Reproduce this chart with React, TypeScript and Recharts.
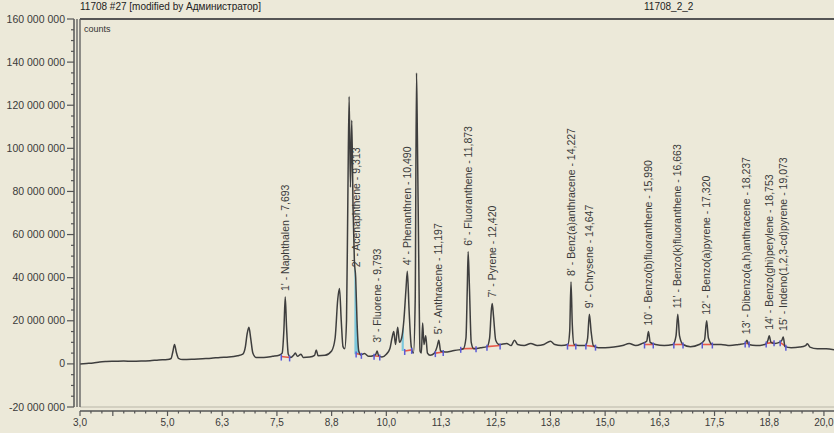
import { ComposedChart, Line, Area, XAxis, YAxis, Scatter, ReferenceLine } from 'recharts';

// chromatogram trace: retention time (min) and signal (millions of counts)
const retentionTimes = [
  3.0, 3.15, 3.3, 3.45, 3.6, 3.8, 4.0, 4.2, 4.4, 4.6, 4.8, 5.0, 5.08, 5.12, 5.16, 5.2, 5.25, 5.35, 5.55, 5.8,
  6.0, 6.2, 6.4, 6.6, 6.72, 6.78, 6.82, 6.86, 6.9, 6.95, 7.02, 7.2, 7.4, 7.55, 7.62, 7.66, 7.69, 7.72, 7.76, 7.82,
  7.88, 7.92, 7.97, 8.05, 8.1, 8.25, 8.36, 8.4, 8.44, 8.6, 8.75, 8.83, 8.89, 8.93, 8.97, 9.01, 9.05, 9.09, 9.12, 9.15,
  9.18, 9.21, 9.24, 9.27, 9.3, 9.33, 9.37, 9.42, 9.5, 9.6, 9.7, 9.76, 9.79, 9.82, 9.9, 10.0, 10.08, 10.13, 10.17, 10.21,
  10.26, 10.3, 10.35, 10.4, 10.45, 10.48, 10.52, 10.57, 10.62, 10.66, 10.69, 10.71, 10.74, 10.77, 10.8, 10.83, 10.86, 10.9, 10.94, 11.0,
  11.1, 11.16, 11.2, 11.24, 11.35, 11.5, 11.65, 11.76, 11.82, 11.85, 11.87, 11.9, 11.94, 12.0, 12.15, 12.3, 12.36, 12.4, 12.42, 12.45,
  12.5, 12.58, 12.75, 12.85, 12.93, 13.0, 13.15, 13.3, 13.45, 13.6, 13.75, 13.85, 14.0, 14.15, 14.19, 14.22, 14.25, 14.29, 14.4, 14.55,
  14.6, 14.64, 14.68, 14.73, 14.85, 15.0, 15.2, 15.4, 15.55, 15.7, 15.85, 15.95, 15.99, 16.03, 16.15, 16.35, 16.55, 16.62, 16.66, 16.7,
  16.78, 16.95, 17.15, 17.27, 17.32, 17.36, 17.45, 17.65, 17.85, 18.05, 18.2, 18.24, 18.28, 18.45, 18.65, 18.72, 18.75, 18.79, 18.88, 18.98,
  19.04, 19.07, 19.11, 19.25, 19.45, 19.58, 19.62, 19.68, 19.85, 20.05, 20.23,
];
const signalMillions = [
  0.0, 0.2, 0.4, 0.9, 1.1, 1.2, 1.3, 1.2, 1.3, 1.5, 1.8, 2.0, 2.5, 5.5, 9.0, 5.5, 2.6, 2.0, 2.1, 2.4,
  2.6, 3.0, 3.2, 3.8, 4.5, 8.0, 14.0, 17.0, 12.0, 5.0, 3.0, 3.0, 3.5, 4.0, 5.0, 16.0, 31.0, 17.0, 4.5, 3.0,
  4.0, 5.0, 3.5, 4.5, 3.0, 3.2, 4.0, 6.5, 3.8, 4.0, 6.0, 12.0, 30.0, 35.0, 20.0, 8.0, 7.0, 20.0, 75.0, 124.0,
  82.0, 113.0, 72.0, 48.0, 40.0, 20.0, 6.0, 4.2, 4.8, 3.5, 3.8, 4.5, 6.0, 4.0, 3.2, 4.5, 7.0, 12.0, 15.0, 9.0,
  17.0, 10.0, 12.0, 20.0, 35.0, 43.0, 25.0, 8.0, 5.0, 30.0, 135.0, 105.0, 50.0, 6.0, 5.0, 19.0, 9.0, 13.0, 5.0, 4.0,
  5.0, 8.0, 11.0, 6.0, 5.5, 6.0, 6.5, 7.0, 12.0, 35.0, 52.0, 35.0, 10.0, 7.0, 7.5, 8.0, 12.0, 25.0, 28.0, 22.0,
  11.0, 9.0, 9.5, 8.5, 11.0, 9.0, 8.5, 9.5, 8.5, 9.0, 10.5, 9.0, 8.5, 9.0, 15.0, 38.0, 18.0, 9.0, 8.5, 8.5,
  12.0, 23.0, 15.0, 8.5, 7.5, 7.5, 7.8, 8.5, 9.5, 8.5, 9.5, 10.5, 15.0, 10.0, 9.0, 8.5, 9.0, 13.0, 23.0, 13.0,
  9.0, 8.0, 9.0, 11.0, 20.0, 12.0, 9.0, 9.0, 8.5, 9.0, 9.5, 11.0, 9.0, 8.5, 9.0, 11.0, 13.0, 10.0, 9.5, 10.0,
  11.0, 12.5, 8.0, 7.5, 7.8, 8.5, 9.3, 7.8, 7.0, 7.0, 6.5,
];

// identified compounds
const peakTimes = [7.693, 9.313, 9.793, 10.49, 11.197, 11.873, 12.42, 14.227, 14.647, 15.99, 16.663, 17.32, 18.237, 18.753, 19.073];
const peakHeights = [31, 42, 7, 43, 11, 52, 28, 38, 23, 15, 23, 20, 11, 13, 12.5];
const peakLabels = [
  "1' - Naphthalen - 7,693",
  "2' - Acenaphthene - 9,313",
  "3' - Fluorene - 9,793",
  "4' - Phenanthren - 10,490",
  "5' - Anthracene - 11,197",
  "6' - Fluoranthene - 11,873",
  "7' - Pyrene - 12,420",
  "8' - Benz(a)anthracene - 14,227",
  "9' - Chrysene - 14,647",
  "10' - Benzo(b)fluoranthene - 15,990",
  "11' - Benzo(k)fluoranthene - 16,663",
  "12' - Benzo(a)pyrene - 17,320",
  "13' - Dibenzo(a,h)anthracene - 18,237",
  "14' - Benzo(ghi)perylene - 18,753",
  "15' - Indeno(1,2,3-cd)pyrene - 19,073",
];

// integration baselines
const intStarts = [7.6, 9.31, 9.72, 10.42, 11.12, 11.7, 12.3, 14.14, 14.56, 15.9, 16.57, 17.22, 18.2, 18.68, 19.0];
const intEnds = [7.79, 9.43, 9.85, 10.58, 11.3, 12.05, 12.6, 14.33, 14.78, 16.1, 16.78, 17.45, 18.29, 18.86, 19.13];
const intStartLevels = [3.4, 4.8, 3.8, 6.0, 5.0, 7.0, 8.0, 8.5, 8.5, 9.0, 9.0, 9.0, 9.5, 9.5, 10.0];
const intEndLevels = [3.0, 4.2, 3.4, 6.5, 5.5, 7.2, 8.5, 8.5, 8.0, 9.0, 9.0, 9.0, 9.5, 10.0, 8.0];

// axes
const xTicks = [3, 3.75, 5, 6.25, 7.5, 8.75, 10, 11.25, 12.5, 13.75, 15, 16.25, 17.5, 18.75, 20];
const xTickLabels = ['3,0', '', '5,0', '6,3', '7,5', '8,8', '10,0', '11,3', '12,5', '13,8', '15,0', '16,3', '17,5', '18,8', '20,0'];
const yTicks = [-20, 0, 20, 40, 60, 80, 100, 120, 140, 160];
const yTickLabels = ['-20 000 000', '0', '20 000 000', '40 000 000', '60 000 000', '80 000 000', '100 000 000', '120 000 000', '140 000 000', '160 000 000'];

const chartData = retentionTimes.map((t, i) => ({ t, signal: signalMillions[i] }));
const cyanA = chartData.filter(d => d.t >= 9.27 && d.t <= 9.37);
const cyanB = chartData.filter(d => d.t >= 10.35 && d.t <= 10.4);
const labelData = peakTimes.map((t, i) => ({ t, signal: peakHeights[i], label: peakLabels[i] }));
const markerData = intStarts.flatMap((s, i) => [
  { t: s, signal: intStartLevels[i] },
  { t: intEnds[i], signal: intEndLevels[i] },
]);

const xMinor: number[] = [];
for (let v = 3; v <= 20.001; v += 0.25) xMinor.push(v);
const yMinor: number[] = [];
for (let v = -20; v <= 160; v += 5) yMinor.push(v);

const FONT = '"Liberation Sans", Arial, sans-serif';
const BG = '#ECE9D9';
const INK = '#3a3a3a';

const XTick = (props: any) => {
  const { x, y, payload } = props;
  const i = xTicks.findIndex(v => Math.abs(v - payload.value) < 1e-6);
  const major = i >= 0;
  return (
    <g>
      <line x1={x} x2={x} y1={y} y2={y + (major ? 5 : 2.5)} stroke="#555" strokeWidth={1.2} />
      {major && xTickLabels[i] ? (
        <text x={x} y={y + 15} textAnchor="middle" fontSize={10} fontFamily={FONT} fill={INK}>
          {xTickLabels[i]}
        </text>
      ) : null}
    </g>
  );
};

const YTick = (props: any) => {
  const { x, y, payload } = props;
  const i = yTicks.findIndex(v => Math.abs(v - payload.value) < 1e-6);
  const major = i >= 0;
  return (
    <g>
      <line x1={x - (major ? 7 : 3)} x2={x} y1={y} y2={y} stroke="#555" strokeWidth={1.2} />
      {major ? (
        <text x={x - 9} y={y + 3.5} textAnchor="end" fontSize={10.5} fontFamily={FONT} fill={INK}>
          {yTickLabels[i]}
        </text>
      ) : null}
    </g>
  );
};

const PeakLabel = (props: any) => {
  const { cx, cy, payload } = props;
  const x = cx + 3.5;
  const y = cy - 6;
  return (
    <text x={x} y={y} transform={`rotate(-90 ${x} ${y})`} fontSize={10.5} fontFamily={FONT} fill={INK}>
      {payload.label}
    </text>
  );
};

const Marker = (props: any) => {
  const { cx, cy } = props;
  return <line x1={cx} x2={cx} y1={cy - 2} y2={cy + 4} stroke="#5a5ad8" strokeWidth={1.5} />;
};

export default function App() {
  return (
    <div style={{ position: 'absolute', left: 0, top: 0, width: 834, height: 433, background: BG, fontFamily: FONT }}>
      <div style={{ position: 'absolute', left: 80, top: 1, fontSize: 10, color: '#222' }}>
        11708 #27 [modified by Администратор]
      </div>
      <div style={{ position: 'absolute', left: 644, top: 1, fontSize: 10, color: '#222' }}>11708_2_2</div>
      <div style={{ position: 'absolute', left: 84, top: 24, fontSize: 9, color: '#333' }}>counts</div>
      <ComposedChart width={834} height={433} data={chartData} margin={{ top: 0, right: 0, bottom: 0, left: 0 }}>
        <XAxis xAxisId="top" orientation="top" type="number" dataKey="t" domain={[3, 20.23]} height={19}
          tick={false} tickLine={false} axisLine={{ stroke: '#555', strokeWidth: 2 }} />
        <XAxis xAxisId="frame" orientation="bottom" type="number" dataKey="t" domain={[3, 20.23]} height={4}
          tick={false} tickLine={false} axisLine={{ stroke: '#b9b6a8', strokeWidth: 1 }} />
        <XAxis xAxisId="main" orientation="bottom" type="number" dataKey="t" domain={[3, 20.23]} height={22}
          ticks={xMinor} interval={0} tickLine={false} tickSize={0} tickMargin={0} tick={<XTick />}
          axisLine={{ stroke: '#555', strokeWidth: 1.5 }} allowDataOverflow />
        <YAxis yAxisId="frame" orientation="left" type="number" domain={[-20, 160]} width={3}
          tick={false} tickLine={false} axisLine={{ stroke: '#5a5a5a', strokeWidth: 1.3 }} />
        <YAxis yAxisId="frame2" orientation="left" type="number" domain={[-20, 160]} width={3}
          tick={false} tickLine={false} axisLine={{ stroke: '#5a5a5a', strokeWidth: 1.3 }} />
        <YAxis yAxisId="main" orientation="left" type="number" domain={[-20, 160]} width={74}
          ticks={yMinor} interval={0} tickLine={false} tickSize={0} tickMargin={0} tick={<YTick />}
          axisLine={{ stroke: '#555', strokeWidth: 1.5 }} allowDataOverflow />

        <Area data={cyanA} xAxisId="main" yAxisId="main" dataKey="signal" type="monotone" baseValue={4.5}
          fill="#7cc8dc" fillOpacity={1} stroke="none" isAnimationActive={false} />
        <Area data={cyanB} xAxisId="main" yAxisId="main" dataKey="signal" type="monotone" baseValue={6}
          fill="#7cc8dc" fillOpacity={1} stroke="none" isAnimationActive={false} />

        {intStarts.map((s, i) => (
          <ReferenceLine key={i} xAxisId="main" yAxisId="main"
            segment={[{ x: s, y: intStartLevels[i] }, { x: intEnds[i], y: intEndLevels[i] }]}
            stroke="#e85a4a" strokeWidth={1.6} />
        ))}

        <Line xAxisId="main" yAxisId="main" dataKey="signal" type="monotone" dot={false}
          stroke="#3e3e3e" strokeWidth={1.5} isAnimationActive={false} />

        <Scatter data={markerData} xAxisId="main" yAxisId="main" dataKey="signal" shape={<Marker />} isAnimationActive={false} />
        <Scatter data={labelData} xAxisId="main" yAxisId="main" dataKey="signal" shape={<PeakLabel />} isAnimationActive={false} />
      </ComposedChart>
    </div>
  );
}
